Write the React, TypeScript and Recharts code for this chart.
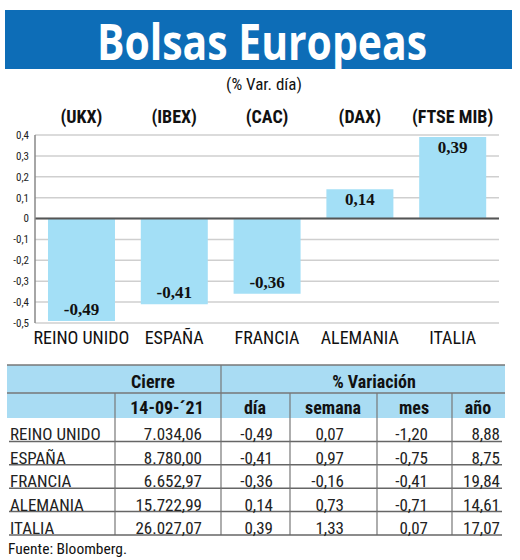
import React from 'react';
import { BarChart, Bar, XAxis, YAxis, CartesianGrid, ReferenceLine, LabelList } from 'recharts';

const countries = ['REINO UNIDO', 'ESPAÑA', 'FRANCIA', 'ALEMANIA', 'ITALIA'];
const tickers = ['(UKX)', '(IBEX)', '(CAC)', '(DAX)', '(FTSE MIB)'];
const dayChange = [-0.49, -0.41, -0.36, 0.14, 0.39];
const closes = ['7.034,06', '8.780,00', '6.652,97', '15.722,99', '26.027,07'];
const weekChange = [0.07, 0.97, -0.16, 0.73, 1.33];
const monthChange = [-1.2, -0.75, -0.41, -0.71, 0.07];
const yearChange = [8.88, 8.75, 19.84, 14.61, 17.07];
const yTicks = [-0.5, -0.4, -0.3, -0.2, -0.1, 0, 0.1, 0.2, 0.3, 0.4];

const title = 'Bolsas Europeas';
const subtitle = '(% Var. día)';
const closeHeader = 'Cierre';
const closeDate = '14-09-´21';
const varHeader = '% Variación';
const varCols = ['día', 'semana', 'mes', 'año'];
const source = 'Fuente: Bloomberg.';

const chartData = countries.map((c, i) => ({ country: c, ticker: tickers[i], value: dayChange[i] }));

const COND = '"Liberation Sans Narrow", "Roboto Condensed", "Arial Narrow", Roboto, sans-serif';
const fmt = (v: number) => v.toFixed(2).replace('.', ',');
const fmtTick = (v: number) => (v === 0 ? '0' : v.toFixed(1).replace('.', ','));

const ValueLabel = (props: any) => {
  const { x, y, width, height, value } = props;
  const top = Math.min(y, y + height);
  const bottom = Math.max(y, y + height);
  const ty = value < 0 ? bottom - 6 : top + 16;
  return (
    <text x={x + width / 2} y={ty} textAnchor="middle" fontFamily='"Liberation Serif", serif' fontWeight="bold" fontSize={17} fill="#111">
      {fmt(value)}
    </text>
  );
};

// table geometry
const colEdges = [7, 115, 221, 290, 377, 452, 505];
const rightAligns = [202, 273, 344, 428, 500];
const headTop = 365;
const head1Bottom = 393;
const head2Bottom = 418;
const rowH = 23.4;

export default function App() {
  const rows = countries.map((c, i) => [c, closes[i], fmt(dayChange[i]), fmt(weekChange[i]), fmt(monthChange[i]), fmt(yearChange[i])]);
  const varCenters = [255, 333, 414, 478];
  return (
    <div style={{ position: 'absolute', left: 0, top: 0, width: 520, height: 560, background: '#fff' }}>
      <svg width={520} height={560} style={{ position: 'absolute', left: 0, top: 0 }}>
        <rect x={5} y={10} width={507} height={59} fill="#0d6db7" />
        <text x={262} y={60} textAnchor="middle" fill="#fff" fontFamily='"Open Sans", sans-serif' fontWeight="bold" fontSize={50} textLength={330} lengthAdjust="spacingAndGlyphs">
          {title}
        </text>
        <text x={264} y={90} textAnchor="middle" fill="#111" fontFamily={COND} fontSize={17}>
          {subtitle}
        </text>
        {/* table header */}
        <rect x={colEdges[0]} y={headTop} width={colEdges[6] - colEdges[0]} height={head2Bottom - headTop} fill="#a9dcf3" />
        <line x1={colEdges[0]} x2={colEdges[6]} y1={headTop} y2={headTop} stroke="#777" strokeWidth={1.5} />
        <line x1={colEdges[0]} x2={colEdges[6]} y1={head1Bottom} y2={head1Bottom} stroke="#777" strokeWidth={1.5} />
        <line x1={colEdges[2]} x2={colEdges[2]} y1={headTop} y2={head2Bottom} stroke="#777" strokeWidth={1.2} />
        {[1, 3, 4, 5].map((k) => (
          <line key={k} x1={colEdges[k]} x2={colEdges[k]} y1={head1Bottom} y2={head2Bottom} stroke="#777" strokeWidth={1.2} />
        ))}
        <text x={153} y={388} textAnchor="middle" fontFamily={COND} fontWeight="bold" fontSize={18} fill="#111">{closeHeader}</text>
        <text x={374} y={388} textAnchor="middle" fontFamily={COND} fontWeight="bold" fontSize={18} fill="#111">{varHeader}</text>
        <text x={167} y={414} textAnchor="middle" fontFamily={COND} fontWeight="bold" fontSize={18} fill="#111">{closeDate}</text>
        {varCols.map((t, i) => (
          <text key={t} x={varCenters[i]} y={414} textAnchor="middle" fontFamily={COND} fontWeight="bold" fontSize={18} fill="#111">{t}</text>
        ))}
        {/* data rows */}
        {rows.map((r, ri) => {
          const bottom = head2Bottom + rowH * (ri + 1);
          return (
            <g key={ri}>
              {[1, 2, 3, 4, 5].map((k) => (
                <line key={k} x1={colEdges[k]} x2={colEdges[k]} y1={bottom - rowH} y2={bottom} stroke="#777" strokeWidth={1.2} />
              ))}
              <line x1={9} x2={502} y1={bottom} y2={bottom} stroke="#666" strokeWidth={1.5} />
              <text x={10} y={bottom - 1} fontFamily={COND} fontSize={17} fill="#222">{r[0]}</text>
              {r.slice(1).map((v, ci) => (
                <text key={ci} x={rightAligns[ci]} y={bottom - 1} textAnchor="end" fontFamily={COND} fontSize={17} fill="#222">{v}</text>
              ))}
            </g>
          );
        })}
        <text x={8} y={554} fontFamily={COND} fontSize={15.5} fill="#111">{source}</text>
      </svg>
      <div style={{ position: 'absolute', left: 0, top: 0 }}>
        <BarChart width={520} height={360} data={chartData} margin={{ top: 105, right: 21, bottom: 7, left: 5 }} barCategoryGap="14%">
          <CartesianGrid vertical={false} stroke="#cfcfcf" strokeWidth={1.5} />
          <XAxis xAxisId="top" orientation="top" dataKey="ticker" height={30} axisLine={false} tickLine={false} tickMargin={6} interval={0}
            tick={{ fontFamily: COND, fontWeight: 'bold', fontSize: 18, fill: '#111' }} />
          <XAxis xAxisId="bottom" dataKey="country" height={30} axisLine={false} tickLine={false} interval={0}
            tick={{ fontFamily: COND, fontSize: 18, fill: '#111' }} />
          <YAxis width={30} domain={[-0.5, 0.4]} ticks={yTicks} tickFormatter={fmtTick} axisLine={{ stroke: '#888', strokeWidth: 1.5 }} tickLine={false} tickMargin={0}
            tick={{ fontFamily: COND, fontSize: 11, fill: '#222' }} interval={0} />
          <ReferenceLine y={0} xAxisId="bottom" stroke="#555" strokeWidth={2} />
          <Bar dataKey="value" xAxisId="bottom" fill="#a3dff6" isAnimationActive={false}>
            <LabelList dataKey="value" content={ValueLabel} />
          </Bar>
        </BarChart>
      </div>
    </div>
  );
}
